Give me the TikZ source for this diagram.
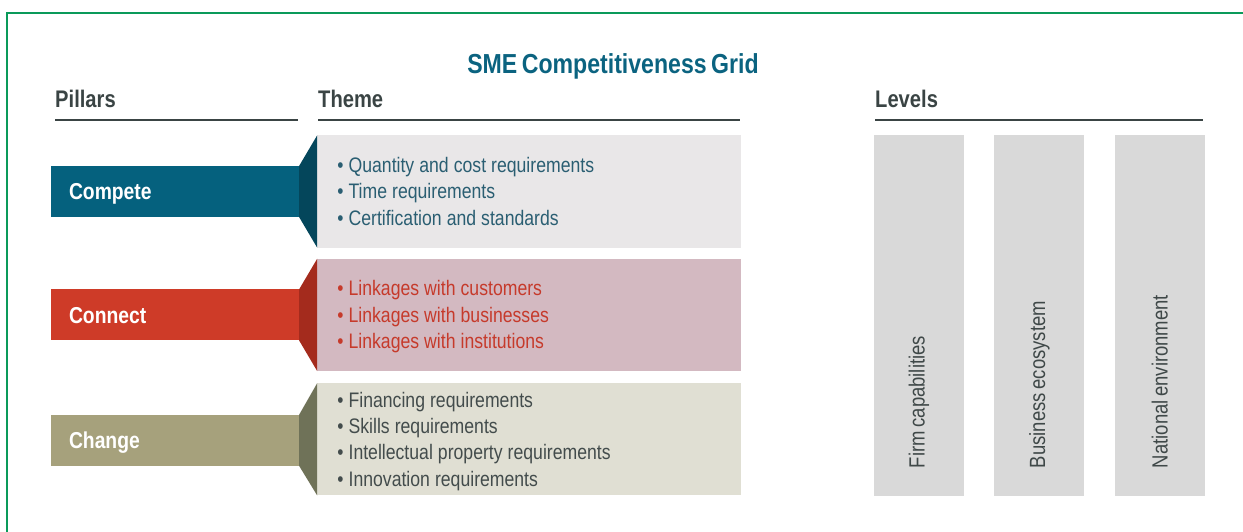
\documentclass[tikz,border=0pt]{standalone}
\usepackage{fontspec}
\setmainfont{Liberation Sans}[FakeStretch=0.84,WordSpace=0.7]
\usepackage{tikz}
\usetikzlibrary{positioning}
\definecolor{cframe}{HTML}{0A9A5A}
\definecolor{ctitle}{HTML}{0B6380}
\definecolor{chead}{HTML}{3A4444}
\definecolor{cblue}{HTML}{05617E}
\definecolor{cbluedk}{HTML}{04465B}
\definecolor{cbluebg}{HTML}{E9E7E8}
\definecolor{cbluetx}{HTML}{2A5E72}
\definecolor{cred}{HTML}{CE3B28}
\definecolor{creddk}{HTML}{A42B1D}
\definecolor{credbg}{HTML}{D3B9C1}
\definecolor{credtx}{HTML}{C63A2B}
\definecolor{colive}{HTML}{A6A17C}
\definecolor{colivedk}{HTML}{6F7258}
\definecolor{colivebg}{HTML}{E0DFD3}
\definecolor{colivetx}{HTML}{434C4C}
\definecolor{clevel}{HTML}{D9D9D9}
\definecolor{clevtx}{HTML}{3F4848}
% bullet with a fixed strut, so every list sits the same way in its box
\newcommand{\itm}{\rule[-5pt]{0pt}{24.6pt}\textbullet\ }
\newcommand{\tightspace}{\spaceskip=0.24em\relax}

\begin{document}
\begin{tikzpicture}[x=1pt,y=-1pt,
  node distance=18pt,
  head/.style={anchor=base west,inner sep=0pt,text=chead,font=\fontsize{24}{28}\selectfont\bfseries},
  rule/.style={line width=1.4pt,chead},
  pillar/.style={rectangle,minimum width=248pt,minimum height=51pt,inner xsep=18pt,text width=212pt,align=left,text height=16.5pt,text depth=0pt,text=white,font=\fontsize{23}{26}\selectfont\bfseries},
  theme/.style={rectangle,minimum width=424pt,minimum height=112pt,inner xsep=20pt,text width=384pt,align=left,font=\fontsize{21}{26.3}\selectfont,execute at begin node=\tightspace},
  level/.style={rectangle,fill=clevel,minimum width=90pt,minimum height=361pt,inner sep=0pt},
  leveltxt/.style={rotate=90,anchor=west,inner sep=0pt,text=clevtx,font=\fontsize{22}{26}\selectfont}]

  \useasboundingbox (0,0) rectangle (1243,532);

  % outer frame
  \draw[line width=2.4pt,cframe] (7,532) -- (7,13) -- (1243,13);

  % title and column heads
  \node[anchor=base,inner sep=0pt,text=ctitle,font=\fontsize{27.5}{32}\selectfont\bfseries] (title) at (613,74) {SME Competitiveness Grid};
  \node[head] (hpillars) at (55,108) {Pillars};
  \node[head] (htheme) at (318,108) {Theme};
  \node[head] (hlevels) at (875,108) {Levels};
  \draw[rule] (55,120) -- (298,120);
  \draw[rule] (318,120) -- (740,120);
  \draw[rule] (875,120) -- (1203,120);

  % pillars
  \node[pillar,fill=cblue] (compete) at (175,191.5) {Compete};
  \node[pillar,fill=cred,below=72pt of compete] (connect) {Connect};
  \node[pillar,fill=colive,below=74pt of connect] (change) {Change};

  % themes
  \node[theme,fill=cbluebg,text=cbluetx,right=of compete] (tcompete)
    {\itm Quantity and cost requirements\\\itm Time requirements\\\itm Certification and standards};
  \node[theme,fill=credbg,text=credtx,right=of connect] (tconnect)
    {\itm Linkages with customers\\\itm Linkages with businesses\\\itm Linkages with institutions};
  \node[theme,fill=colivebg,text=colivetx,right=of change,yshift=1pt] (tchange)
    {\itm Financing requirements\\\itm Skills requirements\\\itm Intellectual property requirements\\\itm Innovation requirements};

  % flared joints
  \fill[cbluedk] (compete.north east) -- (tcompete.north west) -- (tcompete.south west) -- (compete.south east) -- cycle;
  \fill[creddk] (connect.north east) -- (tconnect.north west) -- (tconnect.south west) -- (connect.south east) -- cycle;
  \fill[colivedk] (change.north east) -- (tchange.north west) -- (tchange.south west) -- (change.south east) -- cycle;

  % levels
  \node[level] (firm) at (919,315.5) {};
  \node[level,right=30pt of firm] (business) {};
  \node[level,right=30pt of business] (national) {};
  \node[leveltxt] (tfirm) at ([yshift=28pt]firm.south) {Firm capabilities};
  \node[leveltxt] (tbusiness) at ([yshift=28pt]business.south) {Business ecosystem};
  \node[leveltxt] (tnational) at ([yshift=28pt]national.south) {National environment};
\end{tikzpicture}
\end{document}
